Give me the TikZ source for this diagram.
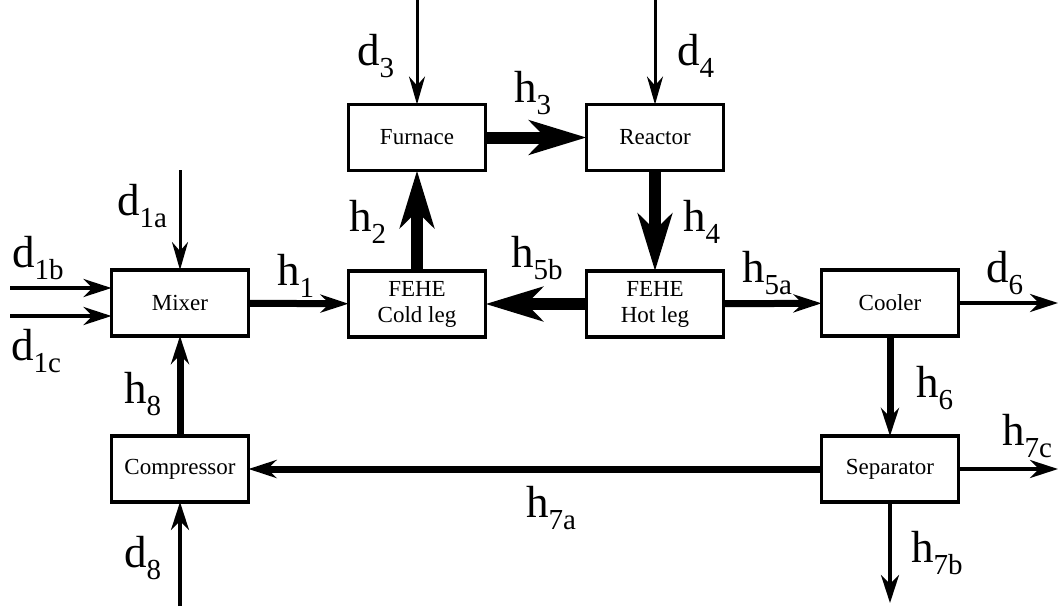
\documentclass[tikz,border=0pt]{standalone}
\usepackage{fontspec}
\setmainfont{Liberation Serif}
\usetikzlibrary{arrows.meta}
\newcommand\lbl[2]{#1\raisebox{-0.27em}{\fontsize{29}{29}\selectfont #2}}
\begin{document}
\begin{tikzpicture}[x=1pt,y=-1pt,
  box/.style={draw, line width=3.5pt, minimum width=137pt, minimum height=66pt, inner sep=0pt, outer sep=0pt, font=\fontsize{23}{26}\selectfont, align=center},
  lab/.style={anchor=base west, inner sep=0pt, font=\fontsize{45}{48}\selectfont},
  thinarr/.style={line width=3pt, -{Stealth[length=28pt,width=16pt,inset=9pt]}},
  medarr/.style={line width=4pt, -{Stealth[length=28pt,width=18pt,inset=9pt]}},
  thickarr/.style={line width=7pt, -{Stealth[length=28pt,width=18pt,inset=9pt]}},
  heavyarr/.style={line width=12pt, -{Stealth[length=57pt,width=34pt,inset=16pt]}},
]
\useasboundingbox (0,0) rectangle (1060,606);
% boxes
\node[box] (mixer) at (180,303) {Mixer};
\node[box] (furnace) at (417,137.5) {Furnace};
\node[box] (reactor) at (655,137.5) {Reactor};
\node[box] (cold) at (417,304) {FEHE\\Cold leg};
\node[box] (hot) at (655,304) {FEHE\\Hot leg};
\node[box] (cooler) at (890,303) {Cooler};
\node[box] (sep) at (890,469) {Separator};
\node[box] (comp) at (180,469) {Compressor};
% free ends
\coordinate (d1as) at (180,170);
\coordinate (d1bs) at (10,288);
\coordinate (d1cs) at (10,316);
\coordinate (d3s) at (417,0);
\coordinate (d4s) at (655,0);
\coordinate (d6e) at (1058,303);
\coordinate (h7ce) at (1058,469);
\coordinate (h7be) at (890,603);
\coordinate (d8s) at (180,606);
% connectors
\draw[thinarr] (d1as) -- (mixer);
\draw[medarr] (d1bs) -- (d1bs -| mixer.west);
\draw[medarr] (d1cs) -- (d1cs -| mixer.west);
\draw[thickarr] (mixer) -- (cold);
\draw[heavyarr] (cold) -- (furnace);
\draw[thinarr] (d3s) -- (furnace);
\draw[heavyarr] (furnace) -- (reactor);
\draw[thinarr] (d4s) -- (reactor);
\draw[heavyarr] (reactor) -- (hot);
\draw[heavyarr] (hot) -- (cold);
\draw[thickarr] (hot) -- (cooler);
\draw[medarr] (cooler) -- (d6e);
\draw[thickarr] (cooler) -- (sep);
\draw[medarr] (sep) -- (h7ce);
\draw[medarr] (sep) -- (h7be);
\draw[thickarr] (sep) -- (comp);
\draw[thickarr] (comp) -- (mixer);
\draw[medarr] (d8s) -- (comp);
% labels
\node[lab] (ld3) at (357,65) {\lbl{d}{3}};
\node[lab] (lh3) at (514,102) {\lbl{h}{3}};
\node[lab] (ld4) at (677,65) {\lbl{d}{4}};
\node[lab] (lh2) at (349,231) {\lbl{h}{2}};
\node[lab] (lh4) at (683,231) {\lbl{h}{4}};
\node[lab] (lh5b) at (511,267) {\lbl{h}{5b}};
\node[lab] (ld1a) at (117,215) {\lbl{d}{1a}};
\node[lab] (ld1b) at (12,267) {\lbl{d}{1b}};
\node[lab] (ld1c) at (11,360) {\lbl{d}{1c}};
\node[lab] (lh1) at (277,285) {\lbl{h}{1}};
\node[lab] (lh5a) at (742,282) {\lbl{h}{5a}};
\node[lab] (ld6) at (986,282) {\lbl{d}{6}};
\node[lab] (lh6) at (916,397) {\lbl{h}{6}};
\node[lab] (lh7c) at (1002,445) {\lbl{h}{7c}};
\node[lab] (lh7b) at (911,562) {\lbl{h}{7b}};
\node[lab] (lh7a) at (526,517) {\lbl{h}{7a}};
\node[lab] (lh8) at (124,403) {\lbl{h}{8}};
\node[lab] (ld8) at (124,567) {\lbl{d}{8}};
\end{tikzpicture}
\end{document}
